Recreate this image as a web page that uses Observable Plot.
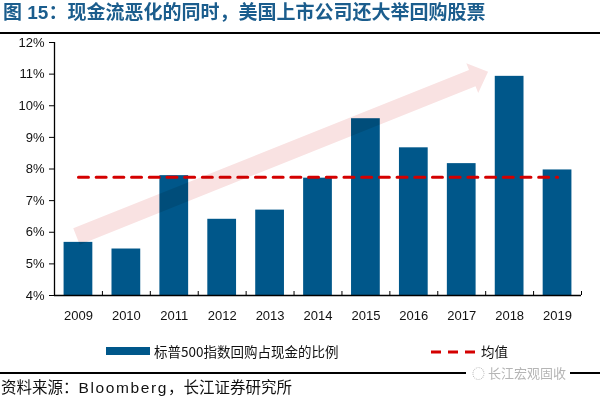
<!DOCTYPE html>
<html>
<head>
<meta charset="utf-8">
<script src="https://cdn.jsdelivr.net/npm/d3@7"></script>
<script src="https://cdn.jsdelivr.net/npm/@observablehq/plot@0.6"></script>
<style>
  html, body { margin: 0; padding: 0; background: #fff; }
  body { width: 600px; height: 399px; position: relative; overflow: hidden;
         font-family: "Liberation Sans", Arial, "Noto Sans CJK SC", sans-serif; }
  .abs { position: absolute; white-space: nowrap; }
  #title { left: 3px; top: -1px; line-height: 28px; font-size: 19px; font-weight: bold;
           color: #1b5d8d; font-family: "Liberation Sans", "Noto Sans CJK SC", sans-serif; }
  #titleRule { left: 0; top: 32px; width: 600px; height: 2px; background: #000; }
  #chart { left: 0; top: 33px; }
  .legText { font-size: 13.5px; line-height: 16px; color: #111; font-family: "Noto Sans CJK SC", sans-serif; }
  #capRule { left: 0; top: 372px; width: 600px; height: 2px; background: #000; }
  #caption { left: 1px; top: 379px; font-size: 15.5px; line-height: 18px; color: #111; }
  #caption .lat { letter-spacing: 1.6px; }
  #watermark { left: 466px; top: 365px; padding: 0 4px 0 6px; background: #fff; color: #b5b5b5;
               font-size: 13px; line-height: 16px; font-family: "Noto Sans CJK SC", sans-serif; }
</style>
</head>
<body>
<div class="abs" id="title">图 15：现金流恶化的同时，美国上市公司还大举回购股票</div>
<div class="abs" id="titleRule"></div>
<div class="abs" id="chart"></div>
<div class="abs" id="legend"></div>
<div class="abs" id="capRule"></div>
<div class="abs" id="caption">资料来源：<span class="lat">Bloomberg</span>，长江证券研究所</div>
<div class="abs" id="watermark">◌ 长江宏观固收</div>
<script>
// ---- data ----
const years = [2009, 2010, 2011, 2012, 2013, 2014, 2015, 2016, 2017, 2018, 2019];
const buybackRatio = [5.68, 5.47, 7.79, 6.41, 6.70, 7.71, 9.59, 8.67, 8.17, 10.93, 7.97];
const yTicks = [4, 5, 6, 7, 8, 9, 10, 11, 12];
const seriesName = "标普500指数回购占现金的比例";
const meanName = "均值";
// decorative trend arrow, in data coordinates (year, percent)
const arrowFrom = [2008.97, 5.85];
const arrowTo = [2017.56, 11.06];

const barColor = "#00578a";
const meanColor = "#d40000";

const data = years.map((year, i) => ({year, value: buybackRatio[i]}));
const meanValue = d3.mean(buybackRatio);
const meanData = years.map(year => ({year, mean: meanValue}));
const boundaries = years.map(y => y + 0.5);

const chart = Plot.plot({
  width: 600,
  height: 297,
  marginLeft: 54,
  marginRight: 19,
  marginTop: 9,
  marginBottom: 35,
  x: {domain: [years[0] - 0.5, years[years.length - 1] + 0.5]},
  y: {domain: [yTicks[0], yTicks[yTicks.length - 1]]},
  style: {fontFamily: "'Liberation Sans', Arial, sans-serif", fontSize: "13px", color: "#111", background: "transparent", overflow: "visible"},
  marks: [
    Plot.rectY(data, {x1: d => d.year - 0.3, x2: d => d.year + 0.3, y1: yTicks[0], y2: "value", fill: barColor}),
    Plot.ruleY([yTicks[0]], {stroke: "#000", strokeWidth: 1.3}),
    Plot.ruleX([years[0] - 0.5], {y1: yTicks[0], y2: yTicks[yTicks.length - 1], stroke: "#000", strokeWidth: 1.3}),
    Plot.axisY({ticks: yTicks, tickFormat: d => d + "%", tickSize: 5, tickPadding: 5, label: null, stroke: "#000"}),
    Plot.axisX({ticks: years, tickFormat: d => String(d), tickSize: 0, tickPadding: 15, label: null}),
    Plot.axisX({ticks: boundaries, tickSize: 4, dy: -4, tickFormat: () => "", label: null, stroke: "#000"}),
    Plot.line(meanData, {x: "year", y: "mean", stroke: meanColor, strokeWidth: 3, strokeDasharray: "10,7.7"})
  ]
});
document.getElementById("chart").appendChild(chart);

// trend arrow drawn through the plot's own scales
(function drawArrow() {
  const sx = chart.scale("x"), sy = chart.scale("y");
  const x0 = sx.apply(arrowFrom[0]), y0 = sy.apply(arrowFrom[1]);
  const x1 = sx.apply(arrowTo[0]), y1 = sy.apply(arrowTo[1]);
  const len = Math.hypot(x1 - x0, y1 - y0);
  const ux = (x1 - x0) / len, uy = (y1 - y0) / len;
  const px = -uy, py = ux;
  const shaft = 8.8, head = 16, headLen = 17;
  const bx = x1 - ux * headLen, by = y1 - uy * headLen;
  const pts = [
    [x0 + px * shaft, y0 + py * shaft],
    [bx + px * shaft, by + py * shaft],
    [bx + px * head, by + py * head],
    [x1, y1],
    [bx - px * head, by - py * head],
    [bx - px * shaft, by - py * shaft],
    [x0 - px * shaft, y0 - py * shaft]
  ];
  d3.select(chart).append("polygon")
    .attr("points", pts.map(p => p.join(",")).join(" "))
    .attr("fill", "#f9e2e2")
    .style("mix-blend-mode", "multiply");
})();

// legend
const legend = document.getElementById("legend");
legend.style.left = "0px"; legend.style.top = "0px";
legend.innerHTML = `
  <div class="abs" style="left:106px;top:347px;width:44px;height:8px;background:${barColor}"></div>
  <div class="abs legText" style="left:154px;top:343px">${seriesName}</div>
  <svg class="abs" style="left:431px;top:349px" width="46" height="6"><line x1="0" y1="3" x2="46" y2="3" stroke="${meanColor}" stroke-width="3" stroke-dasharray="10,7"/></svg>
  <div class="abs legText" style="left:481px;top:343px">${meanName}</div>`;
</script>
</body>
</html>
